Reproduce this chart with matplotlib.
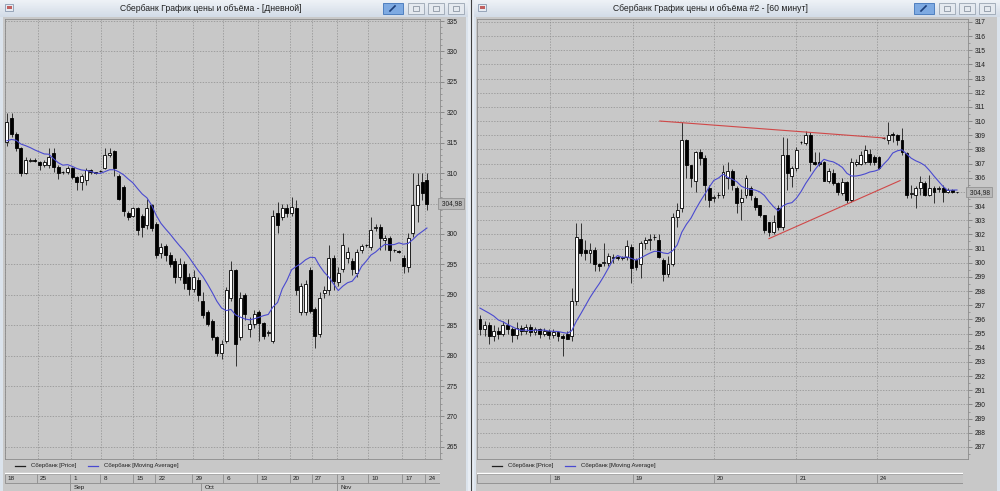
import numpy as np
import pandas as pd
import matplotlib
matplotlib.use("Agg")
import matplotlib.pyplot as plt
from matplotlib.patches import Rectangle

plt.rcParams['font.family'] = ['Liberation Sans', 'DejaVu Sans']

W, H = 1000, 491

# дневные свечи (левое окно)
day_open = [315.1, 319.0, 316.5, 314.1, 310.0, 312.0, 312.1, 311.8, 311.3, 311.3,
            313.3, 311.0, 310.2, 310.1, 310.9, 309.3, 308.5, 308.9, 310.5, 310.1,
            310.3, 310.9, 312.9, 313.7, 309.6, 307.7, 303.5, 303.0, 304.2, 303.0,
            301.5, 304.7, 301.7, 296.8, 298.0, 296.5, 295.5, 293.0, 295.0, 293.0,
            291.0, 292.5, 289.0, 287.1, 285.7, 283.0, 280.5, 282.4, 289.4, 294.0,
            283.0, 289.9, 284.4, 285.2, 287.1, 285.4, 283.7, 282.4, 303.4, 302.7,
            304.2, 303.4, 304.2, 287.1, 287.1, 294.0, 287.7, 283.6, 290.3, 290.7,
            296.1, 292.1, 294.3, 296.1, 295.6, 293.6, 297.3, 298.1, 297.8, 300.9,
            301.1, 299.0, 299.3, 297.3, 297.2, 296.1, 294.5, 300.1, 304.7, 308.5,
            308.8]
day_high = [319.8, 319.8, 316.8, 314.3, 312.6, 312.4, 312.4, 312.0, 312.2, 314.1,
            314.2, 311.3, 310.4, 311.2, 311.0, 309.5, 309.9, 310.8, 310.7, 310.2,
            310.5, 314.1, 314.1, 313.8, 309.8, 308.0, 303.8, 304.5, 304.5, 303.2,
            305.8, 305.0, 302.0, 298.5, 298.3, 297.0, 296.0, 296.0, 295.5, 293.5,
            294.0, 293.0, 290.4, 287.5, 286.0, 283.3, 282.5, 291.2, 295.6, 294.3,
            290.5, 290.3, 286.3, 287.5, 287.5, 285.6, 284.2, 303.9, 305.3, 305.0,
            305.0, 306.0, 305.5, 292.0, 292.5, 294.5, 288.0, 290.5, 291.5, 298.1,
            296.5, 294.5, 300.1, 297.8, 296.0, 297.5, 298.3, 298.4, 302.7, 301.6,
            301.6, 299.8, 299.6, 297.6, 297.4, 296.5, 300.1, 310.0, 310.0, 310.0,
            310.0]
day_low = [314.5, 316.0, 313.7, 309.6, 309.8, 311.8, 311.8, 310.5, 311.0, 310.9,
           310.1, 309.1, 309.8, 309.8, 309.0, 307.2, 307.2, 308.0, 309.8, 309.9,
           310.1, 310.6, 312.6, 309.6, 305.5, 303.0, 302.3, 302.7, 299.9, 299.5,
           300.8, 300.4, 296.0, 296.0, 295.5, 294.5, 292.0, 292.5, 291.0, 290.0,
           290.5, 289.0, 286.2, 284.8, 282.5, 280.0, 279.5, 282.0, 289.0, 278.3,
           282.5, 285.8, 283.0, 284.5, 282.4, 282.8, 283.3, 282.0, 300.1, 302.3,
           302.7, 303.0, 289.9, 286.6, 286.6, 287.0, 281.3, 283.0, 289.5, 290.0,
           290.7, 291.5, 293.8, 295.2, 293.2, 293.0, 296.8, 297.9, 297.3, 300.4,
           297.3, 297.3, 295.6, 297.1, 296.9, 293.6, 293.8, 299.5, 301.9, 305.5,
           303.9]
day_close = [318.4, 316.5, 314.2, 310.0, 312.1, 312.1, 312.0, 311.3, 311.8, 312.6,
             311.0, 310.0, 310.1, 310.9, 309.3, 308.5, 309.6, 310.5, 310.1, 310.0,
             310.4, 312.9, 313.3, 310.9, 305.8, 303.7, 302.7, 304.2, 300.6, 301.1,
             304.2, 300.9, 296.5, 297.8, 296.5, 295.0, 293.0, 295.0, 292.0, 291.0,
             293.0, 290.0, 286.6, 285.2, 283.0, 280.5, 281.9, 290.7, 294.0, 281.9,
             289.5, 286.9, 285.2, 286.9, 285.4, 283.3, 283.8, 303.0, 301.4, 304.2,
             303.4, 304.4, 290.7, 291.5, 291.8, 287.4, 283.3, 289.5, 290.7, 296.1,
             292.3, 293.6, 298.1, 297.0, 294.3, 297.0, 298.0, 298.2, 300.6, 301.1,
             299.3, 299.3, 297.3, 297.4, 297.1, 294.8, 299.4, 304.7, 308.0, 306.7,
             304.98]
# закрытия до начала видимого участка (для скользящей средней)
day_close_prev = [314.2, 315.6, 316.1, 314.8, 315.3, 315.9, 314.6, 315.0, 313.1]
week_labels = ["18", "25", "1", "8", "15", "22", "29", "6", "13", "20", "27", "3", "10", "17", "24"]
week_pos = [-0.4, 6.6, 13.7, 20.1, 27.1, 31.9, 39.8, 46.4, 53.7, 60.7, 65.4, 70.8, 77.4, 84.7, 89.6]
month_labels = ["Sep", "Oct", "Nov"]
month_pos = [13.7, 41.8, 70.8]

# часовые свечи (правое окно)
hour_open = [296.0, 295.3, 295.6, 294.8, 295.2, 295.0, 295.6, 295.3, 294.9, 295.4,
             295.2, 295.5, 295.1, 295.3, 295.0, 295.2, 294.9, 295.1, 294.8, 295.0,
             294.8, 297.3, 301.7, 300.9, 300.7, 300.9, 299.9, 300.0, 300.0, 300.35,
             300.4, 300.35, 300.37, 301.1, 300.16, 299.9, 301.36, 301.57, 301.8, 301.57,
             300.16, 299.24, 299.94, 303.2, 303.84, 308.65, 306.9, 305.8, 307.8, 307.4,
             305.3, 304.6, 304.75, 304.76, 306.0, 306.5, 305.3, 304.3, 304.76, 305.25,
             304.6, 304.05, 303.34, 302.85, 302.14, 303.84, 302.5, 307.6, 306.1, 306.7,
             308.5, 308.44, 309.0, 307.1, 307.1, 307.1, 305.8, 306.3, 305.6, 304.9,
             305.7, 304.4, 307.0, 307.0, 307.1, 307.7, 307.45, 307.45, 308.8, 308.65,
             309.1, 309.0, 308.65, 307.73, 304.85, 304.76, 305.25, 305.6, 304.76, 305.3,
             305.2, 305.3, 305.0, 305.1, 305.0]
hour_high = [296.3, 295.9, 295.8, 295.6, 295.5, 295.9, 296.0, 295.5, 295.8, 295.6,
             295.7, 295.7, 295.5, 295.4, 295.4, 295.3, 295.3, 295.2, 295.0, 295.2,
             298.2, 302.8, 302.8, 301.6, 301.4, 301.1, 300.0, 301.4, 300.7, 300.65,
             300.5, 300.5, 301.6, 301.3, 300.3, 301.5, 301.8, 302.0, 302.0, 302.0,
             300.3, 300.5, 303.5, 304.2, 309.92, 308.7, 306.9, 307.9, 308.0, 307.6,
             305.5, 304.8, 305.0, 306.9, 307.1, 306.6, 305.4, 305.2, 306.2, 305.4,
             304.7, 304.1, 303.4, 302.9, 303.4, 304.1, 308.86, 308.8, 306.8, 308.2,
             308.6, 309.3, 309.2, 307.8, 307.8, 307.2, 306.7, 306.6, 305.7, 306.0,
             305.8, 307.4, 307.3, 307.9, 308.3, 308.0, 307.6, 307.5, 308.9, 309.94,
             309.2, 309.1, 309.5, 307.8, 305.5, 305.4, 306.1, 305.8, 306.2, 305.4,
             305.4, 305.5, 305.3, 305.2, 305.0]
hour_low = [294.9, 294.8, 294.3, 294.5, 294.6, 294.8, 295.0, 294.4, 294.6, 294.9,
            295.0, 294.8, 294.9, 294.7, 294.8, 294.6, 294.7, 294.5, 293.4, 294.6,
            294.5, 297.0, 300.5, 300.2, 300.0, 299.4, 299.4, 299.8, 299.8, 299.95,
            300.2, 300.2, 300.2, 298.6, 299.5, 298.9, 301.0, 300.9, 301.6, 300.3,
            298.7, 299.0, 299.8, 302.5, 303.6, 306.0, 305.35, 305.0, 306.9, 304.4,
            303.9, 304.3, 304.6, 304.6, 305.2, 305.1, 303.5, 303.0, 304.6, 304.4,
            303.7, 303.2, 302.1, 301.9, 302.0, 302.3, 302.3, 305.1, 305.35, 306.5,
            308.4, 308.3, 306.5, 306.9, 306.8, 305.8, 305.6, 305.5, 304.8, 304.8,
            304.2, 304.3, 306.8, 306.9, 307.0, 306.9, 306.9, 306.6, 308.7, 308.4,
            308.5, 308.3, 307.6, 304.6, 304.6, 303.84, 304.8, 304.7, 304.7, 304.2,
            305.0, 304.3, 304.9, 304.9, 304.95]
hour_close = [295.3, 295.6, 294.8, 295.2, 295.0, 295.6, 295.3, 294.9, 295.4, 295.2,
              295.5, 295.1, 295.3, 295.0, 295.2, 294.9, 295.1, 294.8, 294.7, 294.6,
              297.3, 301.8, 300.7, 300.7, 300.9, 299.9, 299.8, 300.05, 300.5, 300.4,
              300.35, 300.4, 301.15, 299.6, 299.7, 301.36, 301.57, 301.7, 301.8, 300.37,
              299.24, 299.94, 303.2, 303.7, 308.65, 306.9, 305.96, 307.8, 307.4, 305.5,
              304.4, 304.65, 304.8, 306.4, 306.5, 305.5, 304.2, 304.6, 306.0, 304.76,
              303.9, 303.34, 302.3, 302.14, 302.85, 302.5, 307.6, 306.3, 306.7, 307.94,
              308.55, 309.0, 307.1, 307.0, 307.0, 305.8, 306.5, 305.6, 305.0, 305.7,
              304.4, 307.1, 307.1, 307.6, 307.94, 307.1, 307.1, 306.7, 308.8, 309.0,
              309.0, 308.65, 307.8, 304.76, 304.9, 305.25, 305.7, 304.76, 305.3, 305.0,
              305.25, 305.0, 305.1, 305.0, 304.98]
hour_close_prev = [297.4, 296.6, 297.2, 297.8, 296.9, 297.1, 296.5, 297.0, 296.2]
day_labels = ["18", "19", "20", "21", "24"]
day_pos = [15.3, 33.3, 51.0, 68.9, 86.5]
# линии тренда на часовом графике
trend_top_x = [39.2, 88.3]
trend_top_y = [310.0, 308.8]
trend_bot_x = [63.0, 91.6]
trend_bot_y = [301.7, 305.8]

ma_period = 10
last_price = "304,98"

fig = plt.figure(figsize=(W / 100, H / 100), dpi=100)
fig.patch.set_facecolor("#c8c8c8")


def px_axes(x0, y0, x1, y1):
    return fig.add_axes([x0 / W, 1 - y1 / H, (x1 - x0) / W, (y1 - y0) / H])


# рамки окон, заголовки, кнопки
bg = fig.add_axes([0, 0, 1, 1])
bg.set_xlim(0, W)
bg.set_ylim(H, 0)
bg.axis("off")

grad = np.linspace(0, 1, 20).reshape(-1, 1)
title_cmap = matplotlib.colors.LinearSegmentedColormap.from_list("t", ["#eef2f7", "#d3dce7"])


def window(x0, x1, title, title_x):
    bg.add_patch(Rectangle((x0, 0), x1 - x0, H, fc="#dbe3ec", ec="none"))
    bg.imshow(grad, cmap=title_cmap, extent=(x0, x1, 17, 0), aspect="auto", zorder=1)
    bg.add_patch(Rectangle((x0 + 3, 17), x1 - x0 - 6, H - 17, fc="#c8c8c8", ec="none", zorder=1))
    bg.text(title_x, 8.5, title, ha="center", va="center", fontsize=6.2, color="#202020", zorder=3)
    # иконка
    bg.add_patch(Rectangle((x0 + 5, 4), 8, 7, fc="#e6ebf2", ec="#8a9ab0", lw=0.6, zorder=3))
    bg.add_patch(Rectangle((x0 + 6.5, 6), 5, 3, fc="#c06060", ec="none", zorder=3))
    # кнопки справа
    bx = x1 - 86
    bg.add_patch(Rectangle((bx, 3), 20, 11, fc="#7eaae2", ec="#4f7fbf", lw=0.7, zorder=3))
    bg.plot([bx + 7, bx + 12], [11, 6], color="#1d3f7a", lw=1.2, zorder=4)
    for k in range(3):
        gx = bx + 25 + k * 20
        bg.add_patch(Rectangle((gx, 3), 16, 11, fc="#e4e9ef", ec="#9aa5b3", lw=0.6, zorder=3))
        bg.add_patch(Rectangle((gx + 5, 6), 6, 5, fc="none", ec="#7a8594", lw=0.5, zorder=4))


window(0, 469, "Сбербанк График цены и объёма - [Дневной]", 211)
window(473, 1000, "Сбербанк График цены и объёма #2 - [60 минут]", 710)
bg.add_patch(Rectangle((468, 0), 6, H, fc="#e8edf3", ec="none", zorder=2))
bg.plot([470.5, 470.5], [0, H], color="#404040", lw=0.8, zorder=3)

ma_color = "#4a4ad0"


def draw_candles(ax, o, h, l, c):
    o, h, l, c = map(np.asarray, (o, h, l, c))
    x = np.arange(len(o))
    ax.vlines(x, l, h, color="#1a1a1a", lw=0.6, zorder=3)
    up = c >= o
    ax.bar(x, np.abs(c - o), width=0.62, bottom=np.minimum(o, c),
           color=np.where(up, "white", "black"), edgecolor="black", linewidth=0.6, zorder=4)


def setup_price_axes(ax, xlim, ylim, major, minor, vgrid, hide_label):
    ax.set_facecolor("#c8c8c8")
    ax.set_xlim(*xlim)
    ax.set_ylim(*ylim)
    for s in ax.spines.values():
        s.set_color("#8c8c8c")
        s.set_linewidth(0.6)
    ax.yaxis.tick_right()
    ticks = np.arange(np.ceil(ylim[0] / major) * major, ylim[1], major)
    ax.set_yticks(ticks)
    ax.set_yticklabels(["" if abs(t - hide_label) < 1e-6 else "%g" % t for t in ticks])
    ax.set_yticks(np.arange(np.ceil(ylim[0] / minor) * minor, ylim[1], minor), minor=True)
    ax.tick_params(axis="y", which="major", labelsize=4.8, length=3, width=0.5, color="#707070",
                   pad=2, labelcolor="#202020")
    ax.tick_params(axis="y", which="minor", length=1.5, width=0.4, color="#707070")
    ax.set_xticks(vgrid)
    ax.tick_params(axis="x", length=0, labelbottom=False)
    ax.grid(True, which="major", color="#8e8e8e", lw=0.5, linestyle=(0, (2, 2)))


def moving_average(prev, close):
    s = pd.Series(list(prev) + list(close)).rolling(ma_period).mean()
    return s.iloc[len(prev):].to_numpy()


def last_price_box(ax, value):
    ax.text(1.0, value, " " + last_price, transform=ax.get_yaxis_transform(), fontsize=4.8,
            va="center", ha="left", color="#202020", zorder=6, clip_on=False,
            bbox=dict(boxstyle="square,pad=0.25", fc="#b9b9b9", ec="#8a8a8a", lw=0.5))


def date_strip(x0, x1, xlim, pos, labels, mpos=None, mlabels=None, y0=472):
    ax = px_axes(x0, y0, x1, H)
    ax.set_xlim(*xlim)
    ax.set_ylim(H - y0, 0)
    ax.axis("off")
    ax.axhline(0.5, color="white", lw=1.0)
    ax.add_patch(Rectangle((xlim[0], 1.5), xlim[1] - xlim[0], 9.5, fc="#c4c4c4", ec="#8c8c8c", lw=0.6))
    for p, lab in zip(pos, labels):
        ax.vlines(p, 1.5, 11, color="#8c8c8c", lw=0.6)
        ax.text(p + 0.7, 6.3, lab, fontsize=4.6, va="center", ha="left", color="#202020")
    if mpos is not None:
        for p, lab in zip(mpos, mlabels):
            ax.vlines(p, 11, H - y0, color="#8c8c8c", lw=0.6)
            ax.text(p + 0.7, 15.3, lab, fontsize=4.6, va="center", ha="left", color="#202020")
    return ax


def legend(x, y):
    bg.plot([x, x + 10], [y, y], color="#202020", lw=0.9, zorder=5)
    bg.text(x + 16, y, "Сбербанк [Price]", fontsize=4.3, va="center", color="#202020", zorder=5)
    bg.plot([x + 73, x + 83], [y, y], color=ma_color, lw=0.9, zorder=5)
    bg.text(x + 89, y, "Сбербанк [Moving Average]", fontsize=4.3, va="center", color="#202020", zorder=5)


# левое окно: дневной график
left_xlim = (-0.21, 92.8)
axl = px_axes(5, 19, 440, 459)
setup_price_axes(axl, left_xlim, (263.0, 335.33), 5, 1, week_pos, 305)
draw_candles(axl, day_open, day_high, day_low, day_close)
axl.plot(np.arange(len(day_close)), moving_average(day_close_prev, day_close), color=ma_color, lw=0.8, zorder=5)
last_price_box(axl, day_close[-1])
date_strip(5, 440, left_xlim, week_pos, week_labels, month_pos, month_labels)
legend(15, 466)

# правое окно: часовой график
right_xlim = (-0.65, 106.4)
axr = px_axes(477, 19, 968, 459)
setup_price_axes(axr, right_xlim, (286.15, 317.2), 1, 0.5, day_pos, 305)
draw_candles(axr, hour_open, hour_high, hour_low, hour_close)
axr.plot(np.arange(len(hour_close)), moving_average(hour_close_prev, hour_close), color=ma_color, lw=0.8, zorder=5)
axr.plot(trend_top_x, trend_top_y, color="#d04848", lw=0.8, zorder=6)
axr.plot(trend_bot_x, trend_bot_y, color="#d04848", lw=0.8, zorder=6)
last_price_box(axr, hour_close[-1])
date_strip(477, 963, (right_xlim[0], right_xlim[0] + (963 - 477) / 4.587), day_pos, day_labels, y0=472)
legend(492, 466)

fig.savefig("out.png", dpi=100, facecolor=fig.get_facecolor())
